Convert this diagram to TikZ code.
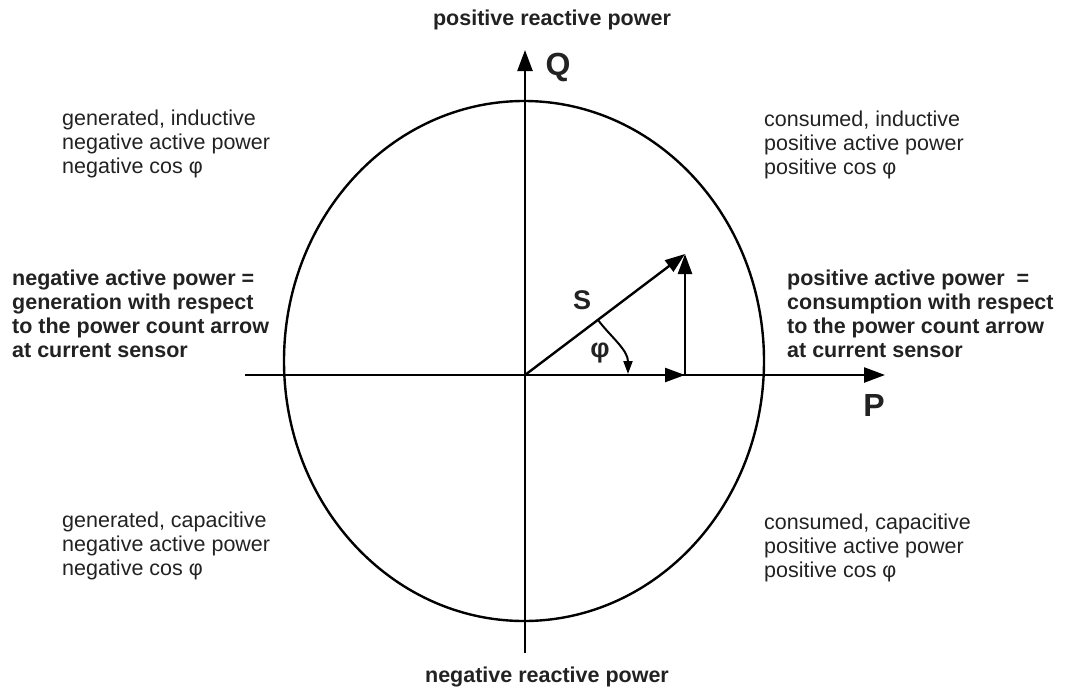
\documentclass[tikz,border=0pt]{standalone}
\usepackage{fontspec}
\setmainfont{Liberation Sans}
\usetikzlibrary{arrows.meta,calc}
\definecolor{txt}{RGB}{34,34,34}
\begin{document}
\begin{tikzpicture}[x=1pt,y=-1pt,
  line/.style={line width=2.4pt, draw=black},
  axisarrow/.style={line, -{Triangle[length=21pt,width=15pt]}},
  vecarrow/.style={line, -{Triangle[length=20pt,width=14pt]}},
  anglearrow/.style={line width=2pt, -{Triangle[length=13pt,width=9pt]}},
  quadtext/.style={font=\fontsize{21.5}{24}\selectfont, text=txt, align=left, inner sep=0pt, anchor=base west},
  boldtext/.style={quadtext, font=\fontsize{21.5}{24}\selectfont\bfseries},
  title/.style={font=\fontsize{21.5}{24}\selectfont\bfseries, text=txt, inner sep=0pt, anchor=base},
  axislabel/.style={font=\fontsize{32}{36}\selectfont\bfseries, text=txt, inner sep=0pt},
  veclabel/.style={font=\fontsize{27}{30}\selectfont\bfseries, text=txt, inner sep=0pt}
]
\useasboundingbox (0,0) rectangle (1071,686);

% coordinates
\coordinate (O) at (525,375);
\coordinate (Xl) at (245,375);
\coordinate (Xr) at (885,375);
\coordinate (Yb) at (525,653);
\coordinate (Yt) at (525,50);
\coordinate (Stip) at (685,254);
\coordinate (Pfoot) at (685,375);
\coordinate (A1) at (598,320);
\coordinate (A2) at (628,374);

% ellipse
\draw[line] (524,361) ellipse [x radius=240, y radius=260];

% axes
\draw[axisarrow] (Xl) -- (Xr);
\draw[axisarrow] (Yb) -- (Yt);

% vectors
\draw[vecarrow] (O) -- (Stip);
\draw[vecarrow] (O) -- (Pfoot);
\draw[vecarrow] (Pfoot) -- (Stip);
\draw[anglearrow] (A1) .. controls (611,337) and (628,350) .. (A2);

% axis / vector labels
\node[axislabel] (Q) at (558,67) {Q};
\node[axislabel] (P) at (874,405) {P};
\node[veclabel] (S) at (582,300) {S};
\node[veclabel] (phi) at (600,353) {φ};

% titles
\node[title] (top) at (552,25) {positive reactive power};
\node[title] (bottom) at (547,682) {negative reactive power};

% quadrant texts (anchor = baseline of last line)
\node[quadtext] (q2) at (62,173) {generated, inductive\\negative active power\\negative cos φ};
\node[quadtext] (q1) at (764,174) {consumed, inductive\\positive active power\\positive cos φ};
\node[quadtext] (q3) at (62,575) {generated, capacitive\\negative active power\\negative cos φ};
\node[quadtext] (q4) at (764,577) {consumed, capacitive\\positive active power\\positive cos φ};

% side texts
\node[boldtext] (left) at (12,357) {negative active power =\\generation with respect\\to the power count arrow\\at current sensor};
\node[boldtext] (right) at (787,357) {positive active power\ \ =\\consumption with respect\\to the power count arrow\\at current sensor};
\end{tikzpicture}
\end{document}
